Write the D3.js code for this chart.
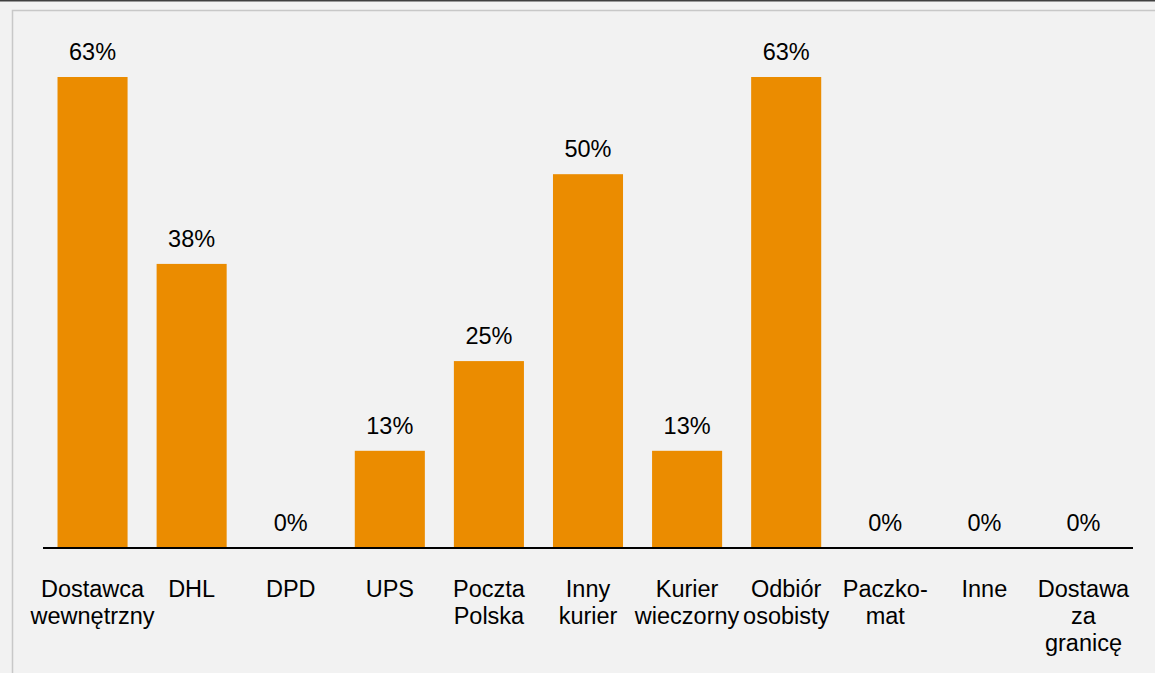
<!DOCTYPE html>
<html>
<head>
<meta charset="utf-8">
<script src="https://cdn.jsdelivr.net/npm/d3@7"></script>
<style>
  html, body { margin: 0; padding: 0; background: #f2f2f2; }
  svg { display: block; }
  text { font-family: "Liberation Sans", Arial, sans-serif; fill: #000; }
</style>
</head>
<body>
<svg id="chart" width="1155" height="673"></svg>
<script>
const categories = [
  ["Dostawca", "wewnętrzny"],
  ["DHL"],
  ["DPD"],
  ["UPS"],
  ["Poczta", "Polska"],
  ["Inny", "kurier"],
  ["Kurier", "wieczorny"],
  ["Odbiór", "osobisty"],
  ["Paczko-", "mat"],
  ["Inne"],
  ["Dostawa", "za", "granicę"]
];
const values = [63, 38, 0, 13, 25, 50, 13, 63, 0, 0, 0];
const valueLabels = ["63%", "38%", "0%", "13%", "25%", "50%", "13%", "63%", "0%", "0%", "0%"];

const W = 1155, H = 673;
const svg = d3.select("#chart");

svg.append("rect").attr("x", 0).attr("y", 0).attr("width", W).attr("height", H).attr("fill", "#f2f2f2");
svg.append("line").attr("x1", 0).attr("x2", W).attr("y1", 0.75).attr("y2", 0.75)
  .attr("stroke", "#404040").attr("stroke-width", 1.5);
svg.append("rect").attr("x", 12.5).attr("y", 10.5).attr("width", W + 20).attr("height", H + 20)
  .attr("fill", "none").attr("stroke", "#c8c8c8").attr("stroke-width", 1.5);

const ids = categories.map((d, i) => i);
const x = d3.scaleBand().domain(ids).range([43, 1133]).paddingInner(0.293).paddingOuter(0.1465);
const baseY = 548;
const y = d3.scaleLinear().domain([0, 63]).range([baseY, 77]);

svg.append("g").selectAll("rect").data(values).join("rect")
  .attr("x", (d, i) => x(i))
  .attr("width", x.bandwidth())
  .attr("y", d => y(d))
  .attr("height", d => baseY - y(d))
  .attr("fill", "#eb8c00");

svg.append("g").selectAll("text").data(values).join("text")
  .attr("x", (d, i) => x(i) + x.bandwidth() / 2)
  .attr("y", d => y(d) - 17)
  .attr("text-anchor", "middle")
  .attr("font-size", 23.5)
  .text((d, i) => valueLabels[i]);

const xAxis = d3.axisBottom(x).tickSize(0).tickFormat("");
const ax = svg.append("g").attr("transform", `translate(0,${baseY})`).call(xAxis);
ax.select(".domain").attr("stroke", "#000").attr("stroke-width", 2).attr("d", "M43,0H1133");

const lab = svg.append("g").selectAll("text").data(categories).join("text")
  .attr("text-anchor", "middle")
  .attr("font-size", 23.5)
  .attr("transform", (d, i) => `translate(${x(i) + x.bandwidth() / 2},597)`);
lab.selectAll("tspan").data(d => d).join("tspan")
  .attr("x", 0)
  .attr("y", (d, j) => j * 27)
  .text(d => d);
</script>
</body>
</html>
